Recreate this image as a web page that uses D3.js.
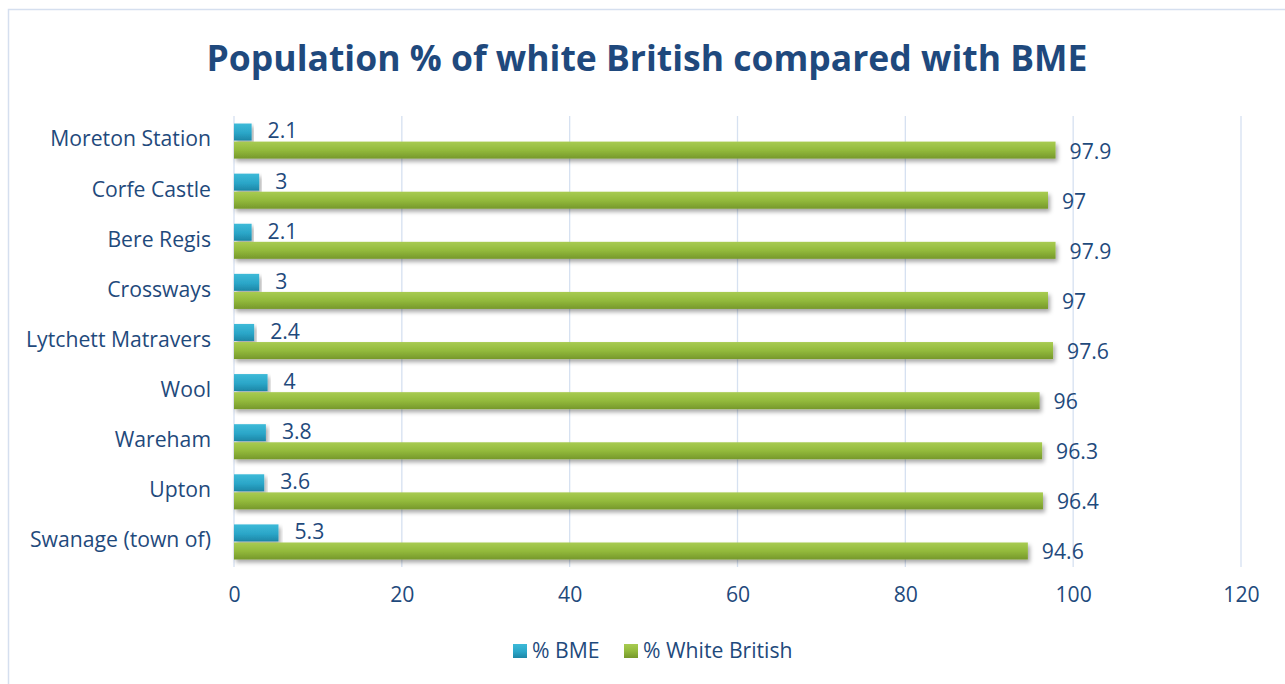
<!DOCTYPE html>
<html><head><meta charset="utf-8">
<script src="https://cdn.jsdelivr.net/npm/d3@7"></script>
<style>body{margin:0;background:#fff;} svg{display:block;}</style>
</head><body>
<svg id="c" width="1285" height="684"></svg>
<script>
const categories = ["Moreton Station","Corfe Castle","Bere Regis","Crossways","Lytchett Matravers","Wool","Wareham","Upton","Swanage (town of)"];
const bme = [2.1, 3, 2.1, 3, 2.4, 4, 3.8, 3.6, 5.3];
const whiteBritish = [97.9, 97, 97.9, 97, 97.6, 96, 96.3, 96.4, 94.6];
const xTicks = [0, 20, 40, 60, 80, 100, 120];
const seriesNames = ["% BME", "% White British"];
const title = "Population % of white British compared with BME";

const svg = d3.select("#c");
const txt = "#1F4A7C";
const font = "'Open Sans', 'Noto Sans', sans-serif";
const fs = 21.2;

const defs = svg.append("defs");
const gB = defs.append("linearGradient").attr("id","gB").attr("x1",0).attr("y1",0).attr("x2",0).attr("y2",1);
gB.append("stop").attr("offset","0%").attr("stop-color","#3DBAD8");
gB.append("stop").attr("offset","55%").attr("stop-color","#2BA6C8");
gB.append("stop").attr("offset","100%").attr("stop-color","#1D86A6");
const gW = defs.append("linearGradient").attr("id","gW").attr("x1",0).attr("y1",0).attr("x2",0).attr("y2",1);
gW.append("stop").attr("offset","0%").attr("stop-color","#A8CB52");
gW.append("stop").attr("offset","50%").attr("stop-color","#93BA3C");
gW.append("stop").attr("offset","100%").attr("stop-color","#76982B");
const f = defs.append("filter").attr("id","sh").attr("x","-5%").attr("y","-50%").attr("width","115%").attr("height","250%");
f.append("feDropShadow").attr("dx",2).attr("dy",3).attr("stdDeviation",2.2).attr("flood-color","#000").attr("flood-opacity",0.35);

// chart border
svg.append("rect").attr("x",8.5).attr("y",9.5).attr("width",1290).attr("height",700)
  .attr("fill","none").attr("stroke","#D5DFEF").attr("stroke-width",1.5);

// title
const t = svg.append("text").attr("x",647).attr("y",71).attr("text-anchor","middle")
  .attr("font-family",font).attr("font-weight","bold").attr("font-size",36).attr("fill","#1F497D").text(title);
const tw = t.node().getComputedTextLength();
t.attr("font-size", 36 * 881 / tw);

const x = d3.scaleLinear().domain([0,120]).range([234,1241]);
const y = d3.scaleBand().domain(categories).range([116,567]).paddingInner(0.3).paddingOuter(0.15);
const sub = d3.scaleBand().domain(seriesNames).range([0, y.bandwidth()]).paddingInner(0.06);

// gridlines
svg.append("g").selectAll("line").data(xTicks).join("line")
  .attr("x1",d=>x(d)).attr("x2",d=>x(d)).attr("y1",116).attr("y2",567)
  .attr("stroke","#D6E1F1").attr("stroke-width",1.3);

// x axis labels
const xa = svg.append("g").attr("transform","translate(0,595)")
  .call(d3.axisBottom(x).tickValues(xTicks).tickSize(0).tickPadding(0));
xa.select(".domain").remove();
xa.selectAll("text").attr("font-family",font).attr("font-size",fs).attr("fill",txt).attr("dy","0.35em").attr("y",0);

// y axis labels
const ya = svg.append("g").attr("transform","translate(211,-2)")
  .call(d3.axisLeft(y).tickSize(0).tickPadding(0));
ya.select(".domain").remove();
ya.selectAll("text").attr("font-family",font).attr("font-size",fs).attr("fill",txt).attr("dy","0.35em");

const rows = categories.map((c,i)=>({c, v:[bme[i], whiteBritish[i]]}));
const g = svg.append("g");
rows.forEach(r=>{
  r.v.forEach((v,j)=>{
    const yy = y(r.c) + sub(seriesNames[j]);
    g.append("rect").attr("x",x(0)).attr("y",yy).attr("width",x(v)-x(0)).attr("height",sub.bandwidth())
      .attr("fill", j===0 ? "url(#gB)" : "url(#gW)").attr("filter","url(#sh)");
    g.append("text").attr("x",x(v) + (j===0?16:14)).attr("y",yy + sub.bandwidth()/2 + (j===0?-1:1))
      .attr("dy","0.35em").attr("font-family",font).attr("font-size",fs).attr("fill",txt).text(v);
  });
});

// legend
const leg = [{n:seriesNames[0], c:"url(#gB)", x:513},{n:seriesNames[1], c:"url(#gW)", x:624}];
const lg = svg.append("g");
leg.forEach(l=>{
  lg.append("rect").attr("x",l.x).attr("y",644).attr("width",14).attr("height",14).attr("fill",l.c);
  lg.append("text").attr("x",l.x+19).attr("y",651).attr("dy","0.35em").attr("font-family",font)
    .attr("font-size",fs).attr("fill",txt).text(l.n);
});
</script>
</body></html>
